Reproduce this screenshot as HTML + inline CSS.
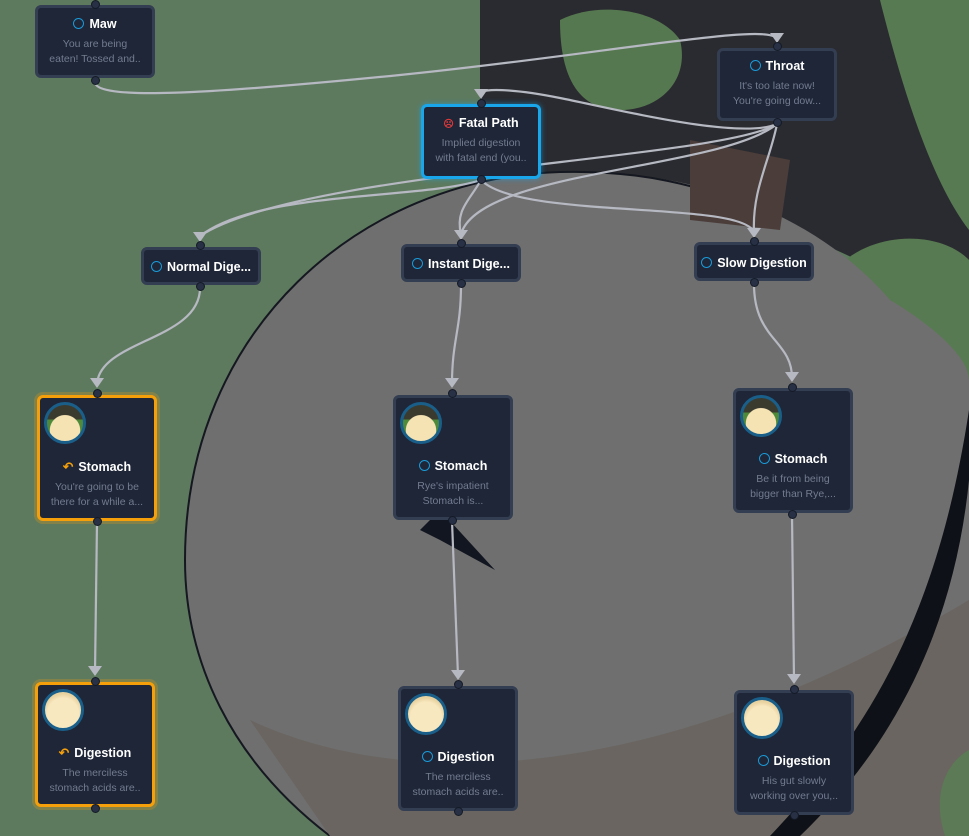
<!DOCTYPE html>
<html><head><meta charset="utf-8"><style>
html,body{margin:0;padding:0;width:969px;height:836px;overflow:hidden;background:#5e7a5e;font-family:"Liberation Sans",sans-serif}
.n{position:absolute;box-sizing:border-box;background:#1e2638;border:3px solid #343e52;border-radius:6px;text-align:center;color:#fff}
.o{border-color:#f5a00a;box-shadow:0 0 0 3px rgba(245,160,10,.25)}
.b{border-color:#1aa6ea;box-shadow:0 0 6px rgba(26,166,234,.6)}
.t{font-weight:bold;font-size:12.5px;white-space:nowrap}
.d{color:#737c90;font-size:10.5px;line-height:15px;margin-top:6px;white-space:nowrap}
.c{display:inline-block;width:9px;height:9px;border:1.5px solid #1a9ad8;border-radius:50%;vertical-align:-1px;margin-right:5px}
.av{position:absolute;left:4px;top:4px;width:36px;height:36px;border-radius:50%;border:3px solid #1a5f8a;background:radial-gradient(circle at 50% 60%,#f8e8c0 55%,#e8d2a0 70%)}
.face{background:radial-gradient(circle at 50% 70%,#f6e3b4 48%,transparent 50%),linear-gradient(#3b3a2e 0 40%,#4f8a3a 40% 100%)}
.h{position:absolute;width:7px;height:7px;border-radius:50%;background:#273044;border:1px solid #141a26}
</style></head><body>
<svg width="969" height="836" style="position:absolute;left:0;top:0">
<path d="M480,0 L969,0 L969,330 C900,280 840,240 700,205 C600,185 520,175 480,178 Z" fill="#2a2b30"/>
<path d="M560,20 C600,0 660,10 680,40 C690,80 660,110 620,110 C580,110 560,80 560,20Z" fill="#567850"/>
<path d="M880,0 L969,0 L969,230 C930,180 900,80 880,0Z" fill="#587a52"/>
<path d="M835,270 C870,230 940,230 969,260 L969,420 C930,360 880,300 835,270Z" fill="#587a52"/>
<path d="M185,560 C185,330 360,178 560,172 C720,168 830,230 890,300 C940,330 969,360 969,380 L969,836 L330,836 C230,760 185,660 185,560Z" fill="#6f6f6f"/>
<path d="M185,560 C185,330 360,178 560,172 C640,170 700,185 760,210" fill="none" stroke="#151820" stroke-width="2"/>
<path d="M185,560 C185,660 230,760 330,836" fill="none" stroke="#151820" stroke-width="2"/>
<path d="M250,720 C400,790 650,790 969,600 L969,836 L330,836 Z" fill="#6a6560"/>
<path d="M969,410 C940,600 880,720 770,836 L800,836 C900,740 955,620 969,480Z" fill="#0e1118"/>
<path d="M945,836 C930,790 950,760 969,750 L969,836Z" fill="#5b7a55"/>
<path d="M690,140 L790,160 L780,230 L690,220 Z" fill="#4a3d3a"/>
<path d="M420,530 L440,510 L495,570 L440,540Z" fill="#121620"/>
<g fill="none" stroke="#b6b8c2" stroke-width="2.2">
<path d="M95,82 C95,100 200,95 400,75 C600,55 777,20 777,40"/>
<path d="M777,124 C740,140 620,110 560,98 C520,90 490,88 481,92"/>
<path d="M777,124 C720,160 300,170 200,236"/>
<path d="M777,124 C720,170 480,170 461,234"/>
<path d="M777,124 C770,160 752,190 754,232"/>
<path d="M481,180 C420,200 260,190 200,236"/>
<path d="M481,180 C470,200 455,210 461,234"/>
<path d="M481,180 C520,220 740,200 754,232"/>
<path d="M200,288 C200,340 100,340 97,384"/>
<path d="M461,285 C461,330 452,340 452,384"/>
<path d="M754,284 C754,340 792,340 792,378"/>
<path d="M97,522 L95,672"/>
<path d="M452,521 L458,676"/>
<path d="M792,515 L794,680"/>
</g>
<g fill="#b6b8c2">
<path d="M193,232 L207,232 L200,242Z"/><path d="M454,230 L468,230 L461,240Z"/><path d="M747,228 L761,228 L754,238Z"/>
<path d="M474,89 L488,89 L481,99Z"/><path d="M770,33 L784,33 L777,43Z"/>
<path d="M90,378 L104,378 L97,388Z"/><path d="M445,378 L459,378 L452,388Z"/><path d="M785,372 L799,372 L792,382Z"/>
<path d="M88,666 L102,666 L95,676Z"/><path d="M451,670 L465,670 L458,680Z"/><path d="M787,674 L801,674 L794,684Z"/>
</g>
</svg>

<div class="n" style="left:35px;top:5px;width:120px;height:73px;padding-top:9px"><div class="t"><span class="c"></span>Maw</div><div class="d">You are being<br>eaten! Tossed and..</div></div>
<div class="n" style="left:717px;top:48px;width:120px;height:73px;padding-top:8px"><div class="t"><span class="c"></span>Throat</div><div class="d">It's too late now!<br>You're going dow...</div></div>
<div class="n b" style="left:421px;top:104px;width:120px;height:75px;padding-top:9px"><div class="t"><span style="color:#e03a3a;font-size:10px;margin-right:5px">☹</span>Fatal Path</div><div class="d">Implied digestion<br>with fatal end (you..</div></div>
<div class="n" style="left:141px;top:247px;width:120px;height:38px;padding-top:10px"><div class="t"><span class="c"></span>Normal Dige...</div></div>
<div class="n" style="left:401px;top:244px;width:120px;height:38px;padding-top:10px"><div class="t"><span class="c"></span>Instant Dige...</div></div>
<div class="n" style="left:694px;top:242px;width:120px;height:39px;padding-top:11px"><div class="t"><span class="c"></span>Slow Digestion</div></div>

<div class="n o" style="left:37px;top:395px;width:120px;height:126px;padding-top:61px"><div class="av face"></div><div class="t"><span style="color:#f5a00a;margin-right:5px">↶</span>Stomach</div><div class="d">You're going to be<br>there for a while a...</div></div>
<div class="n" style="left:393px;top:395px;width:120px;height:125px;padding-top:61px"><div class="av face"></div><div class="t"><span class="c"></span>Stomach</div><div class="d">Rye's impatient<br>Stomach is...</div></div>
<div class="n" style="left:733px;top:388px;width:120px;height:125px;padding-top:61px"><div class="av face"></div><div class="t"><span class="c"></span>Stomach</div><div class="d">Be it from being<br>bigger than Rye,...</div></div>

<div class="n o" style="left:35px;top:682px;width:120px;height:125px;padding-top:60px"><div class="av"></div><div class="t"><span style="color:#f5a00a;margin-right:5px">↶</span>Digestion</div><div class="d">The merciless<br>stomach acids are..</div></div>
<div class="n" style="left:398px;top:686px;width:120px;height:125px;padding-top:61px"><div class="av"></div><div class="t"><span class="c"></span>Digestion</div><div class="d">The merciless<br>stomach acids are..</div></div>
<div class="n" style="left:734px;top:690px;width:120px;height:125px;padding-top:61px"><div class="av"></div><div class="t"><span class="c"></span>Digestion</div><div class="d">His gut slowly<br>working over you,..</div></div>

<div class="h" style="left:91px;top:0px"></div><div class="h" style="left:91px;top:76px"></div>
<div class="h" style="left:773px;top:42px"></div><div class="h" style="left:773px;top:118px"></div>
<div class="h" style="left:477px;top:99px"></div><div class="h" style="left:477px;top:175px"></div>
<div class="h" style="left:196px;top:241px"></div><div class="h" style="left:196px;top:282px"></div>
<div class="h" style="left:457px;top:239px"></div><div class="h" style="left:457px;top:279px"></div>
<div class="h" style="left:750px;top:237px"></div><div class="h" style="left:750px;top:278px"></div>
<div class="h" style="left:93px;top:389px"></div><div class="h" style="left:93px;top:517px"></div>
<div class="h" style="left:448px;top:389px"></div><div class="h" style="left:448px;top:516px"></div>
<div class="h" style="left:788px;top:383px"></div><div class="h" style="left:788px;top:510px"></div>
<div class="h" style="left:91px;top:677px"></div><div class="h" style="left:91px;top:804px"></div>
<div class="h" style="left:454px;top:680px"></div><div class="h" style="left:454px;top:807px"></div>
<div class="h" style="left:790px;top:685px"></div><div class="h" style="left:790px;top:811px"></div>
</body></html>
